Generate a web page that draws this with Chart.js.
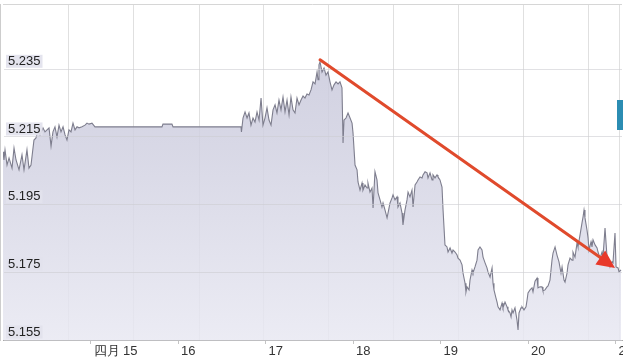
<!DOCTYPE html>
<html>
<head>
<meta charset="utf-8">
<script src="https://cdn.jsdelivr.net/npm/chart.js@4/dist/chart.umd.min.js"></script>
<style>
  html, body { margin: 0; padding: 0; background: #fff; }
  #wrap { position: relative; width: 623px; height: 363px; overflow: hidden; }
  #fx { display: block; }
  #edge { position: absolute; left: 617px; top: 100px; width: 6px; height: 30px; background: #2b8db3; }
</style>
</head>
<body>
<div id="wrap">
  <canvas id="fx" width="623" height="363"></canvas>
  <div id="edge"></div>
</div>
<script>
// ─── Data ────────────────────────────────────────────────────────────────────
// time in days of the month (April), rate in CNY per USD
const times = [
  14.000,14.011,14.023,14.046,14.069,14.103,14.126,14.149,14.183,14.217,
  14.240,14.274,14.297,14.320,14.354,14.377,14.400,14.423,14.457,14.480,
  14.503,14.526,14.549,14.571,14.594,14.617,14.640,14.663,14.686,14.709,
  14.731,14.754,14.777,14.800,14.823,14.846,14.869,14.903,14.937,14.960,
  14.983,15.017,15.051,15.817,15.828,15.931,15.943,16.720,
  16.725,16.743,16.766,16.789,16.811,16.834,16.857,16.880,16.903,16.926,
  16.949,16.971,16.994,17.017,17.040,17.063,17.086,17.109,17.131,17.154,
  17.177,17.200,17.223,17.246,17.269,17.291,17.314,17.337,17.360,17.383,
  17.406,17.429,17.451,17.474,17.497,17.520,17.543,17.566,17.589,17.600,
  17.611,17.623,17.646,17.669,17.691,17.714,17.737,17.760,17.783,17.806,
  17.829,17.851,17.874,17.886,17.897,17.920,17.943,17.966,17.989,18.000,
  18.023,18.046,18.057,18.080,18.103,18.114,18.137,18.160,18.171,18.194,
  18.217,18.229,18.251,18.274,18.286,18.309,18.331,18.343,18.366,18.389,
  18.400,18.423,18.446,18.457,18.480,18.503,18.514,18.537,18.560,18.571,
  18.594,18.617,18.629,18.651,18.674,18.686,18.709,18.731,18.743,18.766,
  18.789,18.800,18.823,18.846,18.857,18.880,18.903,18.914,18.937,18.960,
  18.971,18.994,19.017,19.029,19.051,19.074,19.086,19.109,19.131,19.143,
  19.166,19.189,19.200,19.223,19.246,19.257,19.280,19.291,19.303,19.326,
  19.337,19.360,19.371,19.394,19.417,19.429,19.451,19.474,19.486,19.509,
  19.531,19.543,19.566,19.589,19.600,19.611,19.634,19.646,19.657,19.680,
  19.703,19.714,19.737,19.760,19.771,19.794,19.806,19.817,19.829,19.851,
  19.874,19.886,19.897,19.920,19.931,19.954,19.977,19.989,20.000,20.023,
  20.046,20.057,20.080,20.103,20.114,20.137,20.160,20.171,20.194,20.217,
  20.229,20.251,20.274,20.286,20.309,20.331,20.354,20.377,20.389,20.411,
  20.423,20.446,20.457,20.480,20.503,20.514,20.537,20.560,20.571,20.594,
  20.617,20.629,20.640,20.651,20.674,20.686,20.697,20.720,20.731,20.743,
  20.766,20.789,20.800,20.823,20.846,20.857,20.880,20.903,20.914,20.937,
  20.960,20.971,20.994,21.006,21.029,21.040,21.063
];
const rates = [
  5.2106,5.2082,5.2112,5.2067,5.2088,5.2058,5.2117,5.2082,5.2053,5.2097,
  5.2053,5.2112,5.2058,5.2067,5.2141,5.2147,5.2171,5.2156,5.2177,5.2165,
  5.2171,5.2177,5.2123,5.2165,5.2180,5.2150,5.2185,5.2165,5.2180,5.2156,
  5.2141,5.2171,5.2165,5.2191,5.2171,5.2180,5.2177,5.2180,5.2185,5.2191,
  5.2188,5.2191,5.2180,5.2180,5.2188,5.2188,5.2180,5.2180,
  5.2165,5.2206,5.2224,5.2206,5.2221,5.2185,5.2206,5.2194,5.2224,5.2200,
  5.2265,5.2185,5.2206,5.2236,5.2200,5.2185,5.2230,5.2245,5.2221,5.2259,
  5.2230,5.2268,5.2224,5.2259,5.2215,5.2268,5.2230,5.2221,5.2265,5.2245,
  5.2259,5.2271,5.2265,5.2277,5.2274,5.2289,5.2313,5.2307,5.2342,5.2319,
  5.2363,5.2372,5.2342,5.2354,5.2333,5.2342,5.2313,5.2289,5.2304,5.2313,
  5.2307,5.2313,5.2295,5.2132,5.2200,5.2206,5.2221,5.2206,5.2191,5.2162,
  5.2067,5.2053,5.2017,5.1993,5.2014,5.1993,5.2008,5.1999,5.2014,5.1987,
  5.1999,5.1940,5.2047,5.2023,5.1985,5.1964,5.1943,5.1955,5.1934,5.1911,
  5.1925,5.1955,5.1970,5.1979,5.1964,5.1973,5.1943,5.1955,5.1925,5.1890,
  5.1934,5.1964,5.1987,5.1973,5.1993,5.1943,5.2008,5.2017,5.2023,5.2032,
  5.2029,5.2038,5.2047,5.2044,5.2029,5.2044,5.2023,5.2038,5.2029,5.2038,
  5.2032,5.2023,5.2002,5.1934,5.1831,5.1825,5.1810,5.1822,5.1807,5.1816,
  5.1810,5.1801,5.1792,5.1786,5.1772,5.1748,5.1718,5.1692,5.1707,5.1698,
  5.1727,5.1757,5.1748,5.1766,5.1786,5.1816,5.1825,5.1816,5.1795,5.1778,
  5.1763,5.1751,5.1736,5.1763,5.1718,5.1698,5.1674,5.1662,5.1648,5.1639,
  5.1659,5.1645,5.1662,5.1648,5.1639,5.1630,5.1618,5.1639,5.1630,5.1645,
  5.1609,5.1580,5.1630,5.1645,5.1648,5.1639,5.1648,5.1668,5.1689,5.1698,
  5.1704,5.1692,5.1724,5.1733,5.1704,5.1707,5.1707,5.1695,5.1698,5.1707,
  5.1710,5.1727,5.1786,5.1807,5.1825,5.1801,5.1781,5.1748,5.1766,5.1727,
  5.1721,5.1748,5.1772,5.1792,5.1786,5.1810,5.1795,5.1837,5.1825,5.1860,
  5.1896,5.1914,5.1934,5.1911,5.1875,5.1852,5.1816,5.1840,5.1825,5.1846,
  5.1831,5.1822,5.1810,5.1792,5.1810,5.1795,5.1881,5.1795,5.1792,5.1766,
  5.1781,5.1778,5.1866,5.1766,5.1763,5.1751,5.1757
];

// axes
const dayTicks  = [15, 16, 17, 18, 19, 20, 21];
const dayLabels = ["四月 15", "16", "17", "18", "19", "20", "21"];
const gridDays  = [14.75, 15.49, 16.24, 16.98, 17.72, 18.46, 19.20, 19.95, 20.69, 21.04];
const rateTicks = [5.155, 5.175, 5.195, 5.215, 5.235];
const X_MIN = 14.0, X_MAX = 21.074;
const Y_MIN = 5.155, Y_MAX = 5.2543;

// trend arrow (from the peak to the latest quote)
const arrowFrom = [17.623, 5.2378];
const arrowTo   = [20.994, 5.1763];

// ─── Plugins ─────────────────────────────────────────────────────────────────
const frame = {
    id: "frame",
    beforeDatasetsDraw(chart) {
        const { ctx: c, chartArea: { left, right, top } } = chart;
        c.save();
        c.strokeStyle = "#d6d6d6";
        c.lineWidth = 1;
        c.beginPath();
        c.moveTo(left, top + 0.5);
        c.lineTo(right, top + 0.5);
        c.stroke();
        c.restore();
    }
};

const trendArrow = {
    id: "trendArrow",
    afterDraw(chart) {
        const { ctx: c, scales: { x, y } } = chart;
        const x0 = x.getPixelForValue(arrowFrom[0]), y0 = y.getPixelForValue(arrowFrom[1]);
        const x1 = x.getPixelForValue(arrowTo[0]),   y1 = y.getPixelForValue(arrowTo[1]);
        const ang = Math.atan2(y1 - y0, x1 - x0);
        const headLen = 18, headW = 8.5;
        const bx = x1 - headLen * Math.cos(ang), by = y1 - headLen * Math.sin(ang);
        c.save();
        c.strokeStyle = "#e04a2c";
        c.fillStyle = "#e8392a";
        c.lineWidth = 3;
        c.lineCap = "round";
        c.beginPath();
        c.moveTo(x0, y0);
        c.lineTo(bx, by);
        c.stroke();
        c.beginPath();
        c.moveTo(x1, y1);
        c.lineTo(bx + headW * Math.sin(ang), by - headW * Math.cos(ang));
        c.lineTo(bx - headW * Math.sin(ang), by + headW * Math.cos(ang));
        c.closePath();
        c.fill();
        c.restore();
    }
};

// ─── Chart ───────────────────────────────────────────────────────────────────
const FONT = "Arial, 'Liberation Sans', Helvetica, sans-serif";
const n = Math.min(times.length, rates.length);
const points = [];
for (let i = 0; i < n; i++) points.push({ x: times[i], y: rates[i] });

new Chart(document.getElementById("fx"), {
    type: "line",
    plugins: [frame, trendArrow],
    data: {
        datasets: [{
            data: points,
            borderColor: "#7e7e8e",
            borderWidth: 1.1,
            pointRadius: 0,
            tension: 0,
            fill: "start",
            backgroundColor: (ctx) => {
                const area = ctx.chart.chartArea;
                if (!area) return "rgba(214,214,228,0.85)";
                const g = ctx.chart.ctx.createLinearGradient(0, area.top, 0, area.bottom);
                g.addColorStop(0, "rgba(196,196,216,0.85)");
                g.addColorStop(0.45, "rgba(210,210,226,0.85)");
                g.addColorStop(1, "rgba(232,232,242,0.85)");
                return g;
            }
        }]
    },
    options: {
        responsive: false,
        devicePixelRatio: 1,
        animation: false,
        layout: { padding: { left: 3, right: 1, top: 4, bottom: 0 } },
        plugins: { legend: { display: false }, tooltip: { enabled: false } },
        scales: {
            x: {
                type: "linear",
                position: "bottom",
                min: X_MIN, max: X_MAX,
                afterBuildTicks: s => { s.ticks = dayTicks.map(v => ({ value: v })); },
                afterFit: s => { s.height = 23; s.paddingLeft = 0; s.paddingRight = 0; },
                ticks: {
                    align: "start",
                    labelOffset: 3,
                    padding: 0,
                    maxRotation: 0,
                    autoSkip: false,
                    color: "#333",
                    font: { family: FONT, size: 13 },
                    callback: v => dayLabels[dayTicks.indexOf(v)] ?? ""
                },
                grid: { drawOnChartArea: false, drawTicks: true, tickLength: 4, color: "#c4c4c4" },
                border: { display: true, color: "#a9a9a9" }
            },
            xg: {
                type: "linear",
                position: "bottom",
                min: X_MIN, max: X_MAX,
                afterBuildTicks: s => { s.ticks = gridDays.map(v => ({ value: v })); },
                afterFit: s => { s.height = 0; },
                ticks: { display: false },
                grid: { drawTicks: false, color: "#e0e0e0" },
                border: { display: false }
            },
            y: {
                type: "linear",
                position: "left",
                min: Y_MIN, max: Y_MAX,
                afterBuildTicks: s => { s.ticks = rateTicks.map(v => ({ value: v })); },
                afterFit: s => { s.width = 0; s.paddingTop = 0; s.paddingBottom = 0; },
                ticks: {
                    z: 1,
                    mirror: true,
                    autoSkip: false,
                    padding: 5,
                    labelOffset: -8,
                    color: "#222",
                    font: { family: FONT, size: 13, lineHeight: 1 },
                    showLabelBackdrop: true,
                    backdropColor: "rgba(226,226,237,0.92)",
                    backdropPadding: { x: 2, y: 0 },
                    callback: v => v.toFixed(3)
                },
                grid: { z: 1, drawTicks: false, color: "rgba(205,205,210,0.6)" },
                border: { display: true, color: "#9c9c9c" }
            }
        }
    }
});
</script>
</body>
</html>
